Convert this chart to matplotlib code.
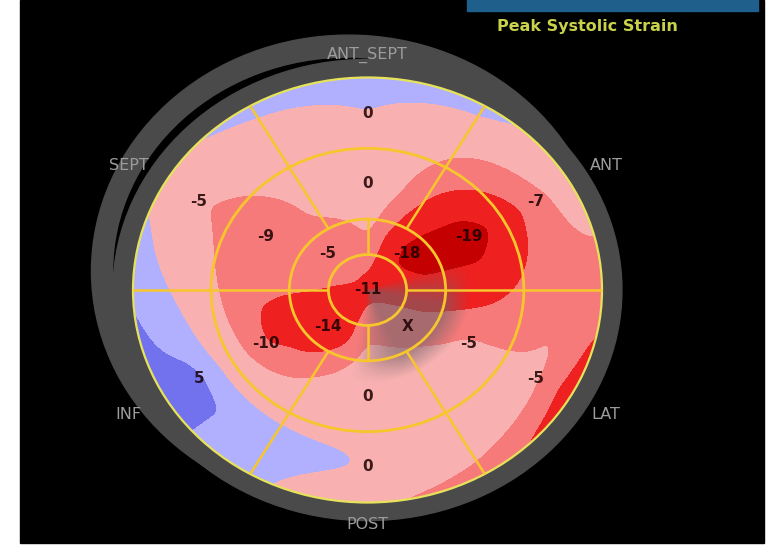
import numpy as np
import matplotlib
matplotlib.use("Agg")
import matplotlib.pyplot as plt
from matplotlib.patches import Ellipse, Rectangle

# ---- segment peak systolic strain values (%) ----
# angles are measured counter-clockwise from the right-hand side of the map
basal_angles = [30, 90, 150, 210, 270, 330]
basal_values = [-7, 0, -5, 5, 0, -5]
mid_angles = [30, 90, 150, 210, 270, 330]
mid_values = [-19, 0, -9, -10, 0, -5]
apical_angles = [45, 135, 225, 315]
apical_values = [-18, -5, -14, None]      # None = excluded segment ("X")
apex_value = -11

# strain estimated along the outer (basal) rim of the map
rim_angles = [0, 30, 60, 90, 120, 150, 180, 210, 240, 270, 300, 330]
rim_values = [-8, -3, 2, 3, 2, -1, 3.8, 5.5, 1.5, -5, -8, -13]

# wall names around the map
wall_names = ["ANT_SEPT", "ANT", "LAT", "POST", "INF", "SEPT"]
wall_angles = [90, 30, 330, 270, 210, 150]

title = "Peak Systolic Strain"

# colour bands of the strain map
band_edges = [-60, -15.5, -9.8, -5.6, 0.3, 4.0, 60]
band_colors = ["#c40000", "#ee2020", "#f77a7a", "#f8b0b0", "#b0b0ff", "#7272ee"]

# ---- layout (pixels) ----
W, H = 775, 550
cx, cy = 367.5, 290.0
rx, ry = 234.5, 212.5           # map ellipse
ring_out = 1.085                 # grey surround, relative size
r_apex, r_apical, r_mid = 1 / 6, 1 / 3, 2 / 3

fig = plt.figure(figsize=(W / 100, H / 100), dpi=100)
fig.patch.set_facecolor("white")
ax = fig.add_axes([0, 0, 1, 1])
ax.set_xlim(0, W)
ax.set_ylim(H, 0)
ax.axis("off")

ax.add_patch(Rectangle((20, 0), 744, 543, color="black", zorder=0))
ax.add_patch(Rectangle((467, 0), 291, 11, color="#1f5f8b", zorder=1))

# grey surround: a second, offset outline behind the main one
sx, sy = cx - 19, cy - 19
ax.add_patch(Ellipse((sx, sy), 2 * rx * 1.096, 2 * ry * 1.11, color="#4a4a4a", zorder=1))
ax.add_patch(Ellipse((sx, sy), 2 * rx, 2 * ry, color="black", zorder=1.1))
ax.add_patch(Ellipse((cx, cy), 2 * rx * ring_out, 2 * ry * ring_out,
                     color="#4a4a4a", zorder=1.2))

# ---- continuous strain field in normalised polar coordinates ----
n = 461
lim = 1.15
g = np.linspace(-lim, lim, n)
xn, yn = np.meshgrid(g, g)
r = np.hypot(xn, yn)
th = np.degrees(np.arctan2(yn, xn)) % 360
rc = np.minimum(r, 1.0)


def profile(angles, values):
    return np.interp(th, angles, values, period=360)


fB = profile(basal_angles, basal_values)
fM = profile(mid_angles, mid_values)
fR = profile(rim_angles, rim_values)
ap_ok = [a for a, v in zip(apical_angles, apical_values) if v is not None]
ap_v = [v for v in apical_values if v is not None]
fA = profile(ap_ok, ap_v)

# apical influence: full at present segment centres, fading towards the
# vertical borders and vanishing over the excluded segment
present = [0.0 if v is None else 1.0 for v in apical_values]
w_ang, w_val = [], []
for i, a in enumerate(apical_angles):
    w_ang.append(a)
    w_val.append(present[i])
    b = (a + 45) % 360
    w_ang.append(b)
    side = 0.7 if b in (0, 180) else 0.0
    w_val.append(side * 0.5 * (present[i] + present[(i + 1) % 4]))
order = np.argsort(w_ang)
wA = profile(np.array(w_ang)[order], np.array(w_val)[order])

rA, rM, rB = 0.25, 0.5, 5 / 6


def lerp(a, b, t):
    return a + (b - a) * np.clip(t, 0, 1)


inner_with = np.where(rc < rA, lerp(apex_value, fA, rc / rA),
                      lerp(fA, fM, (rc - rA) / (rM - rA)))
inner_without = lerp(apex_value, fM, rc / rM)
inner = wA * inner_with + (1 - wA) * inner_without
outer = np.where(rc < rB, lerp(fM, fB, (rc - rM) / (rB - rM)),
                 lerp(fB, fR, (rc - rB) / (1 - rB)))
field = np.where(rc < rM, inner, outer)


def blur(a, sigma):
    rad = int(3 * sigma)
    k = np.exp(-0.5 * (np.arange(-rad, rad + 1) / sigma) ** 2)
    k /= k.sum()
    conv = lambda m: np.convolve(np.pad(m, rad, mode="edge"), k, mode="valid")
    a = np.apply_along_axis(conv, 0, a)
    return np.apply_along_axis(conv, 1, a)


field = blur(field, 5)

X = cx + rx * xn
Y = cy - ry * yn
clip = Ellipse((cx, cy), 2 * rx, 2 * ry, transform=ax.transData)
cs = ax.contourf(X, Y, field, levels=band_edges, colors=band_colors, zorder=2)
cs.set_clip_path(clip)

# greyed-out shading over the excluded apical segment
shade = np.zeros((n, n, 4))
shade[..., :3] = np.array([115, 98, 104]) / 255
ang = np.cos(np.radians(th - 320))
shade[..., 3] = (0.6 * np.clip((ang - 0.5) / 0.4, 0, 1)
                 * np.clip((0.44 - r) / 0.1, 0, 1))
im = ax.imshow(shade, extent=(cx - lim * rx, cx + lim * rx, cy + lim * ry, cy - lim * ry),
               origin="lower", zorder=2.5, interpolation="bilinear")
im.set_clip_path(Ellipse((cx, cy), 2 * rx, 2 * ry, transform=ax.transData))

# ---- segment outlines ----
gold = "#f7c62c"
ax.add_patch(Ellipse((cx, cy), 2 * rx, 2 * ry, fill=False, ec="#e6e35a", lw=1.6, zorder=3))
for rr in (r_mid, r_apical, r_apex):
    ax.add_patch(Ellipse((cx, cy), 2 * rx * rr, 2 * ry * rr, fill=False, ec=gold,
                         lw=2.0, zorder=3))
for a in (0, 60, 120, 180, 240, 300):
    c, s = np.cos(np.radians(a)), np.sin(np.radians(a))
    ax.plot([cx + rx * r_apical * c, cx + rx * c], [cy - ry * r_apical * s, cy - ry * s],
            color=gold, lw=1.8, zorder=3, solid_capstyle="butt")
for a in (0, 90, 180, 270):
    c, s = np.cos(np.radians(a)), np.sin(np.radians(a))
    ax.plot([cx + rx * r_apex * c, cx + rx * r_apical * c],
            [cy - ry * r_apex * s, cy - ry * r_apical * s],
            color=gold, lw=1.8, zorder=3, solid_capstyle="butt")

# ---- value labels ----
lbl = dict(fontsize=11, fontweight="bold", color="#1a0000", alpha=0.85,
           ha="center", va="center", zorder=4)


def put(rr, a, txt):
    c, s = np.cos(np.radians(a)), np.sin(np.radians(a))
    ax.text(cx + rx * rr * c, cy - ry * rr * s, txt, **lbl)


for a, v in zip(basal_angles, basal_values):
    put(0.83, a, f"{v}")
for a, v in zip(mid_angles, mid_values):
    put(0.5, a, f"{v}")
for a, v in zip(apical_angles, apical_values):
    put(0.24, a, "X" if v is None else f"{v}")
put(0.0, 0, f"{apex_value}")

# ---- wall names ----
for name, a in zip(wall_names, wall_angles):
    rr = 1.105 if a in (90, 270) else 1.175
    c, s = np.cos(np.radians(a)), np.sin(np.radians(a))
    ax.text(cx + rx * rr * c, cy - ry * rr * s, name, fontsize=11.5, color="#9c9c9c",
            ha="center", va="center", zorder=4)

ax.text(587, 27, title, fontsize=11.5, fontweight="bold", color="#c9d24a",
        ha="center", va="center", zorder=4)

fig.savefig("out.png", dpi=100, facecolor="white")
